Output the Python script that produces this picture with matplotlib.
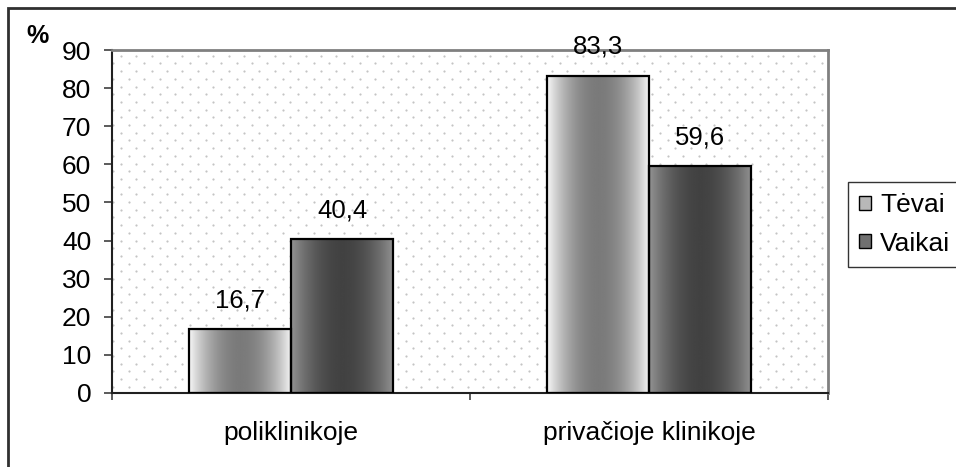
import numpy as np
import matplotlib
matplotlib.use("Agg")
import matplotlib.pyplot as plt
from matplotlib.patches import Rectangle, Patch

plt.rcParams["font.family"] = ["Liberation Sans", "DejaVu Sans"]

categories = ["poliklinikoje", "privačioje klinikoje"]
series = ["Tėvai", "Vaikai"]
tevai = [16.7, 83.3]
vaikai = [40.4, 59.6]
yticks = [0, 10, 20, 30, 40, 50, 60, 70, 80, 90]

W, H = 956, 467
fig = plt.figure(figsize=(W / 100, H / 100), dpi=100)

# outer chart frame (runs off the right/bottom edge)
fig.patches.append(Rectangle((8 / W, -0.05), 1.1, 1 - 8 / H + 0.05, transform=fig.transFigure,
                             fill=False, edgecolor="#303030", linewidth=2))

ax = fig.add_axes([112 / W, (H - 393) / H, 716 / W, 343 / H])
ax.set_xlim(0, 2)
ax.set_ylim(0, 90)

# dotted plot-area fill
nx, ny = 47, 45
xs, ys = [], []
for j in range(ny):
    y = 1 - (5.7 + j * 7.7) / 343
    off = 8.7 if j % 2 == 0 else 1.3
    for i in range(nx):
        x = (off + i * 15.4) / 716
        if 0 < x < 1 and 0 < y < 1:
            xs.append(x)
            ys.append(y)
ax.scatter(xs, ys, s=2.5, color="#c4c4c4", transform=ax.transAxes, zorder=0, linewidths=0)


def gradient(edge, mid):
    t = np.linspace(-1, 1, 256)
    g = edge + (mid - edge) * (1 - t ** 2)
    return np.tile(g, (2, 1))


grads = [gradient(0.97, 0.48), gradient(0.58, 0.26)]
w = 102.3 / 358
centers = np.arange(len(categories)) + 0.5
for k, vals in enumerate([tevai, vaikai]):
    for c, v in zip(centers, vals):
        x0 = c - w + k * w
        rect = Rectangle((x0, 0), w, v, facecolor="none", edgecolor="black", linewidth=1.6, zorder=3)
        ax.add_patch(rect)
        im = ax.imshow(grads[k], cmap="gray", vmin=0, vmax=1, aspect="auto",
                       extent=(x0, x0 + w, 0, v), zorder=2, interpolation="bilinear")
        im.set_clip_path(rect)
        ax.annotate(f"{v:.1f}".replace(".", ","), (x0 + w / 2, v), xytext=(0, 12),
                    textcoords="offset points", ha="center", va="bottom", fontsize=18.5)

ax.set_xlim(0, 2)
ax.set_ylim(0, 90)

ax.set_yticks(yticks)
ax.set_yticklabels([str(t) for t in yticks])
ax.tick_params(axis="y", direction="out", length=6, width=1.2, pad=9, labelsize=19, color="#404040")
ax.set_xticks([0, 1, 2])
ax.set_xticklabels([])
ax.tick_params(axis="x", which="major", direction="out", length=5, width=1.2, color="#404040")
ax.set_xticks(centers, minor=True)
ax.set_xticklabels(categories, minor=True)
ax.tick_params(axis="x", which="minor", length=0, pad=20, labelsize=19)

for s in ["top", "right"]:
    ax.spines[s].set_color("#808080")
    ax.spines[s].set_linewidth(2)
for s in ["left", "bottom"]:
    ax.spines[s].set_color("#202020")
    ax.spines[s].set_linewidth(1.5)

fig.text(26 / W, 1 - 36 / H, "%", fontsize=18, fontweight="bold", va="center", ha="left")

handles = [Patch(facecolor="#b8b8b8", edgecolor="black", label=series[0]),
           Patch(facecolor="#707070", edgecolor="black", label=series[1])]
leg = fig.legend(handles=handles, loc="upper left", bbox_to_anchor=(848 / W, 1 - 182 / H),
                 fontsize=19, frameon=True, fancybox=False, edgecolor="black",
                 handlelength=0.45, handleheight=0.45, handletextpad=0.35, borderpad=0.42,
                 labelspacing=0.55, borderaxespad=0)
leg.get_frame().set_linewidth(1)

fig.savefig("out.png", dpi=100)
